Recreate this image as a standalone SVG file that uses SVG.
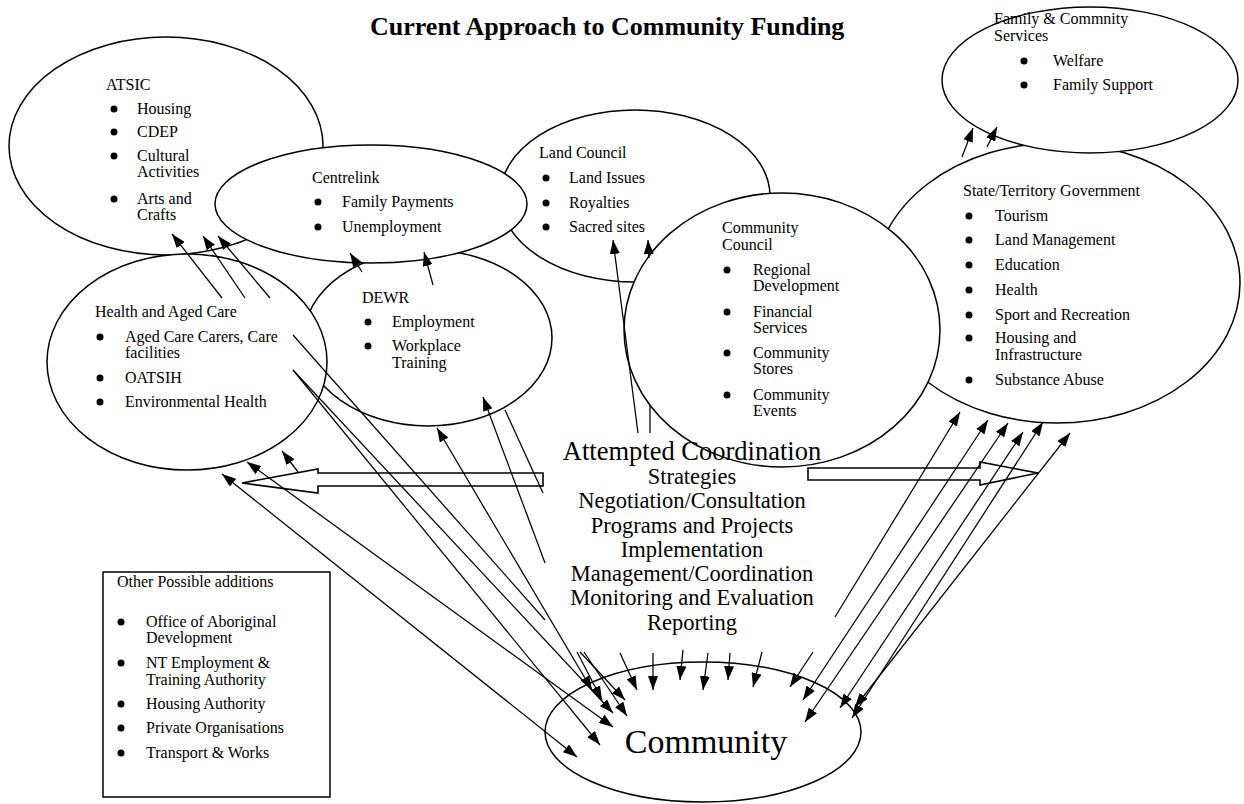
<svg xmlns="http://www.w3.org/2000/svg" width="1244" height="804" viewBox="0 0 1244 804">
  <style>
    .node { fill: #fff; stroke: #000; stroke-width: 1.5; }
    .t { font-family: "Liberation Serif", "Times New Roman", serif; font-size: 16px; fill: #000; }
    .big { font-family: "Liberation Serif", "Times New Roman", serif; font-size: 22.5px; fill: #000; text-anchor: middle; }
    .ln { stroke: #000; stroke-width: 1.25; fill: none; }
    .one { marker-end: url(#ah); }
    .two { marker-end: url(#ah); marker-start: url(#ahs); }
    .blk { fill: #fff; stroke: #000; stroke-width: 1.6; }
  </style>
  <defs>
    <marker id="ah" viewBox="0 0 14 10" refX="14" refY="5" markerWidth="14" markerHeight="10" markerUnits="userSpaceOnUse" orient="auto">
      <path d="M0,0 L14,5 L0,10 z" fill="#000"/>
    </marker>
    <marker id="ahs" viewBox="0 0 14 10" refX="14" refY="5" markerWidth="14" markerHeight="10" markerUnits="userSpaceOnUse" orient="auto-start-reverse">
      <path d="M0,0 L14,5 L0,10 z" fill="#000"/>
    </marker>
  </defs>
  <rect width="1244" height="804" fill="#fff"/>

  <text x="370" y="35" font-family="Liberation Serif, Times New Roman, serif" font-size="26" font-weight="bold">Current Approach to Community Funding</text>

  <g id="atsic">
    <ellipse class="node" cx="166" cy="146" rx="157" ry="109"/>
    <text class="t" x="106" y="90">ATSIC</text>
    <g fill="#000"><circle cx="114" cy="109" r="3.5"/><circle cx="114" cy="132" r="3.5"/><circle cx="114" cy="156" r="3.5"/><circle cx="114" cy="199" r="3.5"/></g>
    <text class="t" x="137" y="114">Housing</text>
    <text class="t" x="137" y="137">CDEP</text>
    <text class="t" x="137" y="161">Cultural</text>
    <text class="t" x="137" y="177">Activities</text>
    <text class="t" x="137" y="204">Arts and</text>
    <text class="t" x="137" y="220">Crafts</text>
  </g>

  <g id="land-council">
    <ellipse class="node" cx="635" cy="196" rx="135" ry="86"/>
    <text class="t" x="539" y="158">Land Council</text>
    <g fill="#000"><circle cx="546" cy="178" r="3.5"/><circle cx="546" cy="203" r="3.5"/><circle cx="546" cy="227" r="3.5"/></g>
    <text class="t" x="569" y="183">Land Issues</text>
    <text class="t" x="569" y="208">Royalties</text>
    <text class="t" x="569" y="232">Sacred sites</text>
  </g>

  <g id="dewr">
    <ellipse class="node" cx="428" cy="338" rx="124" ry="88"/>
    <text class="t" x="362" y="303">DEWR</text>
    <g fill="#000"><circle cx="368" cy="322" r="3.5"/><circle cx="368" cy="346" r="3.5"/></g>
    <text class="t" x="392" y="327">Employment</text>
    <text class="t" x="392" y="351">Workplace</text>
    <text class="t" x="392" y="368">Training</text>
  </g>

  <g id="centrelink">
    <ellipse class="node" cx="371" cy="204" rx="156" ry="59"/>
    <text class="t" x="312" y="183">Centrelink</text>
    <g fill="#000"><circle cx="318" cy="202" r="3.5"/><circle cx="318" cy="227" r="3.5"/></g>
    <text class="t" x="342" y="207">Family Payments</text>
    <text class="t" x="342" y="232">Unemployment</text>
  </g>

  <g id="health">
    <ellipse class="node" cx="187" cy="362" rx="140" ry="108"/>
    <text class="t" x="95" y="317">Health and Aged Care</text>
    <g fill="#000"><circle cx="100" cy="337" r="3.5"/><circle cx="100" cy="378" r="3.5"/><circle cx="100" cy="402" r="3.5"/></g>
    <text class="t" x="125" y="342">Aged Care Carers, Care</text>
    <text class="t" x="125" y="358">facilities</text>
    <text class="t" x="125" y="383">OATSIH</text>
    <text class="t" x="125" y="407">Environmental Health</text>
  </g>

  <g id="state-government">
    <ellipse class="node" cx="1057" cy="283" rx="183" ry="140"/>
    <text class="t" x="963" y="196">State/Territory Government</text>
    <g fill="#000"><circle cx="969" cy="216" r="3.5"/><circle cx="969" cy="240" r="3.5"/><circle cx="969" cy="265" r="3.5"/><circle cx="969" cy="290" r="3.5"/><circle cx="969" cy="315" r="3.5"/><circle cx="969" cy="338" r="3.5"/><circle cx="969" cy="380" r="3.5"/></g>
    <text class="t" x="995" y="221">Tourism</text>
    <text class="t" x="995" y="245">Land Management</text>
    <text class="t" x="995" y="270">Education</text>
    <text class="t" x="995" y="295">Health</text>
    <text class="t" x="995" y="320">Sport and Recreation</text>
    <text class="t" x="995" y="343">Housing and</text>
    <text class="t" x="995" y="360">Infrastructure</text>
    <text class="t" x="995" y="385">Substance Abuse</text>
  </g>

  <g id="community-council">
    <ellipse class="node" cx="782" cy="330" rx="158" ry="137"/>
    <text class="t" x="722" y="233">Community</text>
    <text class="t" x="722" y="250">Council</text>
    <g fill="#000"><circle cx="727" cy="270" r="3.5"/><circle cx="727" cy="312" r="3.5"/><circle cx="727" cy="353" r="3.5"/><circle cx="727" cy="395" r="3.5"/></g>
    <text class="t" x="753" y="275">Regional</text>
    <text class="t" x="753" y="291">Development</text>
    <text class="t" x="753" y="317">Financial</text>
    <text class="t" x="753" y="333">Services</text>
    <text class="t" x="753" y="358">Community</text>
    <text class="t" x="753" y="374">Stores</text>
    <text class="t" x="753" y="400">Community</text>
    <text class="t" x="753" y="416">Events</text>
  </g>

  <g id="family-community-services">
    <ellipse class="node" cx="1090" cy="80" rx="148" ry="73"/>
    <text class="t" x="994" y="24">Family &amp; Commnity</text>
    <text class="t" x="994" y="41">Services</text>
    <g fill="#000"><circle cx="1024" cy="61" r="3.5"/><circle cx="1024" cy="85" r="3.5"/></g>
    <text class="t" x="1053" y="66">Welfare</text>
    <text class="t" x="1053" y="90">Family Support</text>
  </g>

  <g id="community">
    <ellipse class="node" cx="703" cy="732" rx="158" ry="70"/>
    <text x="706" y="753" font-family="Liberation Serif, Times New Roman, serif" font-size="34" text-anchor="middle">Community</text>
  </g>

  <g id="coordination">
    <text x="692" y="460" font-family="Liberation Serif, Times New Roman, serif" font-size="26.5" text-anchor="middle">Attempted Coordination</text>
    <text class="big" x="692" y="484">Strategies</text>
    <text class="big" x="692" y="508">Negotiation/Consultation</text>
    <text class="big" x="692" y="533">Programs and Projects</text>
    <text class="big" x="692" y="557">Implementation</text>
    <text class="big" x="692" y="581">Management/Coordination</text>
    <text class="big" x="692" y="605">Monitoring and Evaluation</text>
    <text class="big" x="692" y="630">Reporting</text>
  </g>

  <g id="other-additions">
    <rect x="103" y="572" width="227" height="225" fill="#fff" stroke="#000" stroke-width="1.5"/>
    <text class="t" x="117" y="587">Other Possible additions</text>
    <g fill="#000"><circle cx="121" cy="622" r="3.5"/><circle cx="121" cy="663" r="3.5"/><circle cx="121" cy="704" r="3.5"/><circle cx="121" cy="728" r="3.5"/><circle cx="121" cy="753" r="3.5"/></g>
    <text class="t" x="146" y="627">Office of Aboriginal</text>
    <text class="t" x="146" y="643">Development</text>
    <text class="t" x="146" y="668">NT Employment &amp;</text>
    <text class="t" x="146" y="685">Training Authority</text>
    <text class="t" x="146" y="709">Housing Authority</text>
    <text class="t" x="146" y="733">Private Organisations</text>
    <text class="t" x="146" y="758">Transport &amp; Works</text>
  </g>

  <g id="connectors">
    <!-- wide outline arrows either side of the coordination list -->
    <polygon class="blk" points="543,473 318,473 318,469 242,483 318,493 318,486 543,486"/>
    <polygon class="blk" points="808,468 980,468 980,462 1038,473 980,485 980,480 808,480"/>

    <!-- up to ATSIC -->
    <line class="ln one" x1="222" y1="298" x2="172" y2="234"/>
    <line class="ln one" x1="245" y1="298" x2="203" y2="236"/>
    <line class="ln one" x1="270" y1="298" x2="218" y2="236"/>
    <!-- up to Centrelink -->
    <line class="ln one" x1="362" y1="272" x2="350" y2="253"/>
    <line class="ln one" x1="433" y1="285" x2="424" y2="252"/>
    <!-- up to Land Council -->
    <line class="ln one" x1="638" y1="433" x2="613" y2="240"/>
    <line class="ln" x1="650" y1="433" x2="650" y2="406"/>
    <line class="ln one" x1="649" y1="258" x2="648" y2="240"/>
    <!-- up to Family & Community Services -->
    <line class="ln one" x1="962" y1="157" x2="973" y2="128"/>
    <line class="ln one" x1="987" y1="147" x2="997" y2="127"/>

    <!-- left fan -->
    <line class="ln" x1="293" y1="335" x2="545" y2="620"/>
    <line class="ln one" x1="293" y1="370" x2="600" y2="745"/>
    <line class="ln one" x1="293" y1="370" x2="613" y2="713"/>
    <line class="ln two" x1="577" y1="757" x2="222" y2="474"/>
    <line class="ln two" x1="613" y1="727" x2="247" y2="462"/>
    <line class="ln one" x1="298" y1="472" x2="282" y2="451"/>
    <line class="ln one" x1="545" y1="563" x2="483" y2="397"/>
    <line class="ln" x1="505" y1="410" x2="543" y2="493"/>
    <line class="ln two" x1="592" y1="690" x2="437" y2="428"/>

    <!-- short arrows down into Community -->
    <line class="ln one" x1="577" y1="652" x2="602" y2="700"/>
    <line class="ln one" x1="580" y1="652" x2="625" y2="700"/>
    <line class="ln one" x1="584" y1="652" x2="627" y2="716"/>
    <line class="ln one" x1="620" y1="653" x2="637" y2="690"/>
    <line class="ln one" x1="653" y1="653" x2="653" y2="690"/>
    <line class="ln one" x1="683" y1="650" x2="680" y2="680"/>
    <line class="ln one" x1="708" y1="653" x2="703" y2="690"/>
    <line class="ln one" x1="730" y1="653" x2="728" y2="680"/>
    <line class="ln one" x1="762" y1="652" x2="753" y2="687"/>
    <line class="ln one" x1="813" y1="652" x2="790" y2="687"/>

    <!-- right fan to State/Territory Government -->
    <line class="ln one" x1="835" y1="617" x2="960" y2="412"/>
    <line class="ln two" x1="803" y1="700" x2="988" y2="420"/>
    <line class="ln two" x1="805" y1="722" x2="1008" y2="423"/>
    <line class="ln two" x1="840" y1="708" x2="1023" y2="432"/>
    <line class="ln two" x1="852" y1="718" x2="1043" y2="422"/>
    <line class="ln two" x1="855" y1="707" x2="1070" y2="433"/>
  </g>
</svg>
